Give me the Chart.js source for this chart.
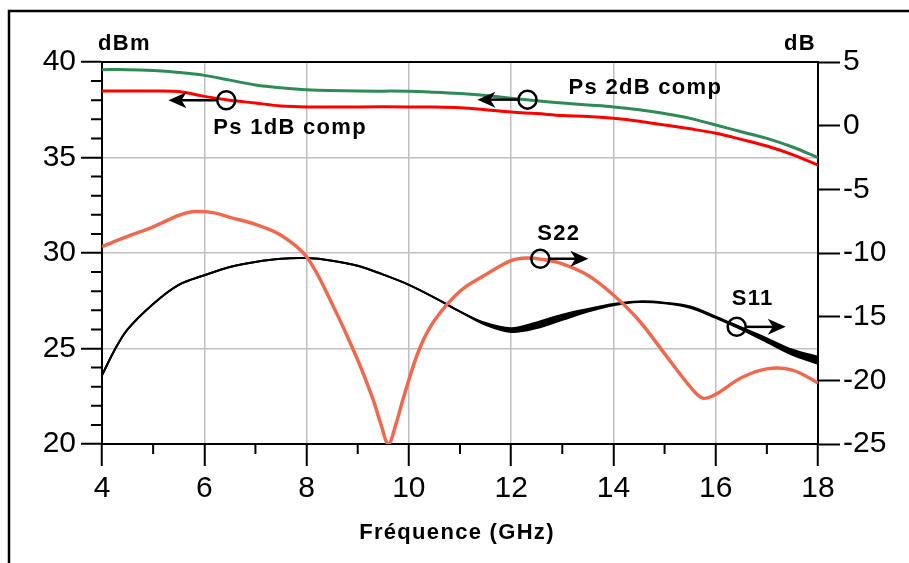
<!DOCTYPE html>
<html>
<head>
<meta charset="utf-8">
<script src="https://cdn.jsdelivr.net/npm/chart.js@4/dist/chart.umd.min.js"></script>
<style>
  html, body { margin: 0; padding: 0; background: #fff; }
  #wrap { width: 909px; height: 563px; }
</style>
</head>
<body>
<div id="wrap"><canvas id="chart" width="909" height="563"></canvas></div>
<script>
// output power at compression (dBm, left axis)
var freqPs = [4, 4.5, 5, 5.5, 6, 6.5, 7, 7.5, 8, 9, 10, 10.5, 11, 11.5, 12, 12.5, 13, 13.5, 14, 14.5, 15, 15.5, 16, 16.5, 17, 17.5, 18];
var ps2dB = [39.6, 39.6, 39.55, 39.45, 39.3, 39.05, 38.8, 38.65, 38.55, 38.48, 38.47, 38.42, 38.35, 38.25, 38.1, 37.97, 37.85, 37.75, 37.65, 37.5, 37.3, 37.05, 36.7, 36.35, 36.0, 35.55, 35.0];
var ps1dB = [38.48, 38.48, 38.48, 38.45, 38.2, 38.0, 37.85, 37.7, 37.65, 37.65, 37.65, 37.64, 37.6, 37.5, 37.38, 37.3, 37.2, 37.15, 37.05, 36.9, 36.7, 36.5, 36.27, 35.95, 35.6, 35.15, 34.6];

// S11 (dB, right axis) - the trace is a thin bundle, upper and lower edge
var freqS11 = [4, 4.25, 4.5, 5, 5.5, 6, 6.5, 7, 7.5, 8, 8.5, 9, 9.5, 10, 10.5, 11, 11.5, 12, 12.5, 13, 13.5, 14, 14.5, 15, 15.5, 16, 16.5, 17, 17.5, 18];
var s11Hi = [-19.6, -17.6, -16.0, -14.0, -12.5, -11.75, -11.1, -10.7, -10.45, -10.4, -10.6, -11.0, -11.7, -12.5, -13.5, -14.6, -15.5, -15.9, -15.45, -14.85, -14.4, -14.0, -13.8, -13.9, -14.2, -15.0, -15.85, -16.7, -17.6, -18.15];
var s11Lo = [-19.6, -17.6, -16.0, -14.0, -12.5, -11.75, -11.1, -10.7, -10.45, -10.4, -10.6, -11.0, -11.7, -12.5, -13.5, -14.6, -15.65, -16.2, -15.9, -15.25, -14.6, -14.1, -13.85, -13.95, -14.3, -15.1, -16.0, -17.0, -18.0, -18.7];

// S22 (dB, right axis)
var freqS22 = [4, 4.5, 5, 5.5, 5.8, 6.2, 6.5, 7, 7.5, 8, 8.5, 9, 9.3, 9.45, 9.6, 9.75, 9.9, 10.2, 10.5, 11, 11.5, 12, 12.3, 12.6, 13, 13.5, 14, 14.5, 15, 15.5, 15.75, 16, 16.5, 17, 17.5, 18];
var s22 = [-9.5, -8.7, -7.95, -7.05, -6.75, -6.85, -7.2, -7.75, -8.6, -10.3, -14.0, -18.4, -21.5, -23.4, -25.0, -23.4, -21.3, -17.6, -15.3, -13.0, -11.7, -10.6, -10.4, -10.5, -10.85, -11.75, -13.3, -15.3, -17.9, -20.5, -21.4, -21.1, -19.8, -19.1, -19.2, -20.2];

// markers with arrows: label, frequency, level, axis, arrow tip frequency
var noteText = ["Ps 1dB comp", "Ps 2dB comp", "S22", "S11"];
var noteFreq = [6.43, 12.32, 12.57, 16.41];
var noteLevel = [38.0, 38.03, -10.45, -15.8];
var noteAxis = ["yL", "yL", "yR", "yR"];
var noteTip = [5.3, 11.34, 13.51, 17.37];
var noteDx = [-13, 41, -3, -5];
var noteDy = [34, -6, -19, -22];

function pts(xs, ys) {
  return xs.map(function (x, i) { return { x: x, y: ys[i] }; });
}

function arrow(ctx, x0, y, x1) {
  var d = x1 > x0 ? 1 : -1;
  ctx.beginPath();
  ctx.moveTo(x0, y);
  ctx.lineTo(x1 - d * 10, y);
  ctx.stroke();
  ctx.beginPath();
  ctx.moveTo(x1, y);
  ctx.lineTo(x1 - d * 18, y - 8);
  ctx.lineTo(x1 - d * 13, y);
  ctx.lineTo(x1 - d * 18, y + 8);
  ctx.closePath();
  ctx.fill();
}

var decor = {
  id: 'decor',
  beforeDraw: function (chart) {
    var ctx = chart.ctx;
    ctx.save();
    ctx.strokeStyle = '#000';
    ctx.lineWidth = 2.5;
    ctx.beginPath();
    ctx.moveTo(9, 563);
    ctx.lineTo(9, 11);
    ctx.lineTo(909, 11);
    ctx.stroke();
    ctx.restore();
  },
  afterDraw: function (chart) {
    var ctx = chart.ctx, a = chart.chartArea;
    var sx = chart.scales.x, sl = chart.scales.yL;
    ctx.save();
    ctx.strokeStyle = '#000';
    ctx.fillStyle = '#000';
    ctx.lineWidth = 2;
    // top edge of the plot box
    ctx.beginPath();
    ctx.moveTo(a.left, a.top);
    ctx.lineTo(a.right, a.top);
    ctx.stroke();
    // minor ticks
    ctx.beginPath();
    for (var v = 21; v < 40; v++) {
      if (v % 5 === 0) continue;
      var py = sl.getPixelForValue(v);
      ctx.moveTo(a.left - 11, py);
      ctx.lineTo(a.left, py);
    }
    for (var f = 5; f < 18; f += 2) {
      var px = sx.getPixelForValue(f);
      ctx.moveTo(px, a.bottom);
      ctx.lineTo(px, a.bottom + 10);
    }
    ctx.stroke();

    // axis units and title
    ctx.font = 'bold 22px "Liberation Sans", Arial, sans-serif';
    ctx.letterSpacing = '1.3px';
    ctx.textBaseline = 'alphabetic';
    ctx.textAlign = 'left';
    ctx.fillText('dBm', a.left - 4, 50);
    ctx.textAlign = 'right';
    ctx.fillText('dB', a.right - 2, 50);
    ctx.textAlign = 'center';
    ctx.fillText('Fréquence (GHz)', 457, 539);

    // curve markers
    ctx.textAlign = 'left';
    ctx.lineWidth = 2.5;
    for (var i = 0; i < noteText.length; i++) {
      var ys = chart.scales[noteAxis[i]];
      var cx = sx.getPixelForValue(noteFreq[i]);
      var cy = ys.getPixelForValue(noteLevel[i]);
      var tx = sx.getPixelForValue(noteTip[i]);
      ctx.beginPath();
      ctx.arc(cx, cy, 9, 0, Math.PI * 2);
      ctx.stroke();
      arrow(ctx, cx + (tx > cx ? 9 : -9), cy, tx);
      ctx.fillText(noteText[i], cx + noteDx[i], cy + noteDy[i]);
    }
    ctx.restore();
  }
};

var tickFont = { family: '"Liberation Sans", Arial, sans-serif', size: 30 };

new Chart(document.getElementById('chart').getContext('2d'), {
  type: 'line',
  data: {
    datasets: [
      { label: 'Ps 2dB comp', data: pts(freqPs, ps2dB), yAxisID: 'yL', borderColor: '#2e8b57', borderWidth: 3 },
      { label: 'Ps 1dB comp', data: pts(freqPs, ps1dB), yAxisID: 'yL', borderColor: '#ff0000', borderWidth: 3 },
      { label: 'S22', data: pts(freqS22, s22), yAxisID: 'yR', borderColor: '#f0694f', borderWidth: 3.5 },
      { label: 'S11', data: pts(freqS11, s11Hi), yAxisID: 'yR', borderColor: '#000', borderWidth: 2 },
      { label: 'S11 b', data: pts(freqS11, s11Lo), yAxisID: 'yR', borderColor: '#000', borderWidth: 2, fill: '-1', backgroundColor: '#000' }
    ]
  },
  options: {
    responsive: false,
    animation: false,
    layout: { padding: { top: 62, left: 0, right: 0, bottom: 0 } },
    elements: {
      point: { radius: 0 },
      line: { tension: 0.35 }
    },
    plugins: {
      legend: { display: false },
      title: { display: false },
      tooltip: { enabled: false }
    },
    scales: {
      x: {
        type: 'linear', min: 4, max: 18,
        afterFit: function (s) { s.height = 119; },
        ticks: { stepSize: 2, font: tickFont, color: '#000', padding: 5, maxRotation: 0 },
        grid: { color: '#c0c0c0', lineWidth: 1.5, tickColor: '#000', tickLength: 22, tickWidth: 2 },
        border: { color: '#000', width: 2 }
      },
      yL: {
        position: 'left', min: 20, max: 40,
        afterFit: function (s) { s.width = 102; },
        ticks: { stepSize: 5, font: tickFont, color: '#000', padding: 5 },
        grid: { color: '#c0c0c0', lineWidth: 1.5, tickColor: '#000', tickLength: 21, tickWidth: 2 },
        border: { color: '#000', width: 2 }
      },
      yR: {
        position: 'right', min: -25, max: 5,
        afterFit: function (s) { s.width = 91; },
        ticks: { stepSize: 5, font: tickFont, color: '#000', padding: 3 },
        grid: { drawOnChartArea: false, tickColor: '#000', tickLength: 22, tickWidth: 2 },
        border: { color: '#000', width: 2 }
      }
    }
  },
  plugins: [decor]
});
</script>
</body>
</html>
